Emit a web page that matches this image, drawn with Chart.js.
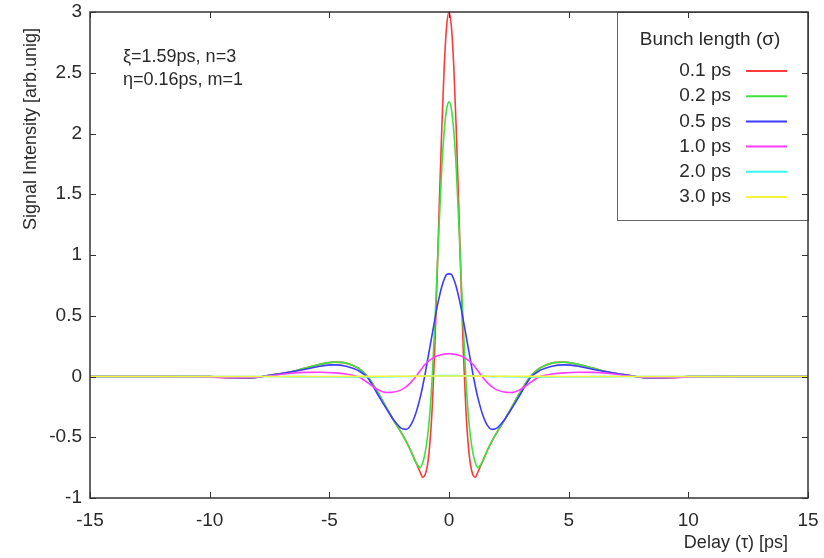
<!DOCTYPE html>
<html>
<head>
<meta charset="utf-8">
<script src="https://cdn.jsdelivr.net/npm/chart.js@4/dist/chart.umd.min.js"></script>
<style>
  html, body { margin: 0; padding: 0; background: #fff; }
  canvas { display: block; }
</style>
</head>
<body>
<canvas id="chart" width="824" height="558"></canvas>
<script>
// delay values (ps)
const delays = [-15, -12, -10, -9.2, -8.3, -7.5, -6.7, -6.0, -5.4, -4.8, -4.3, -3.8, -3.4, -3.0, -2.6, -2.3,
    -2.0, -1.8, -1.6, -1.4, -1.2, -1.1, -1.0, -0.9, -0.8, -0.7, -0.6, -0.5, -0.4, -0.3, -0.2, -0.1,
    0, 0.1, 0.2, 0.3, 0.4, 0.5, 0.6, 0.7, 0.8, 0.9, 1.0, 1.1, 1.2, 1.4, 1.6, 1.8,
    2.0, 2.3, 2.6, 3.0, 3.4, 3.8, 4.3, 4.8, 5.4, 6.0, 6.7, 7.5, 8.3, 9.2, 10, 12, 15];

// signal for each bunch length
const sig01 = [0, 0, 0, -0.01, -0.012, 0.01, 0.035, 0.07, 0.10, 0.118, 0.11, 0.07, 0.0, -0.12, -0.26, -0.365,
    -0.46, -0.53, -0.61, -0.70, -0.79, -0.83, -0.81, -0.73, -0.55, -0.25, 0.2, 0.8, 1.45, 2.05, 2.55, 2.88,
    3.0, 2.88, 2.55, 2.05, 1.45, 0.8, 0.2, -0.25, -0.55, -0.73, -0.81, -0.83, -0.79, -0.70, -0.61, -0.53,
    -0.46, -0.365, -0.26, -0.12, 0.0, 0.07, 0.11, 0.118, 0.10, 0.07, 0.035, 0.01, -0.012, -0.01, 0, 0, 0];
const sig02 = [0, 0, 0, -0.01, -0.012, 0.01, 0.035, 0.07, 0.10, 0.118, 0.11, 0.07, 0.0, -0.12, -0.26, -0.365,
    -0.46, -0.53, -0.61, -0.70, -0.75, -0.71, -0.63, -0.5, -0.3, 0.0, 0.4, 0.85, 1.3, 1.72, 2.02, 2.2,
    2.26, 2.2, 2.02, 1.72, 1.3, 0.85, 0.4, 0.0, -0.3, -0.5, -0.63, -0.71, -0.75, -0.70, -0.61, -0.53,
    -0.46, -0.365, -0.26, -0.12, 0.0, 0.07, 0.11, 0.118, 0.10, 0.07, 0.035, 0.01, -0.012, -0.01, 0, 0, 0];
const sig05 = [0, 0, 0, -0.008, -0.01, 0.01, 0.035, 0.06, 0.085, 0.096, 0.085, 0.05, -0.01, -0.14, -0.27, -0.36,
    -0.425, -0.435, -0.40, -0.31, -0.17, -0.08, 0.02, 0.13, 0.24, 0.35, 0.46, 0.57, 0.66, 0.74, 0.8, 0.84,
    0.845, 0.84, 0.8, 0.74, 0.66, 0.57, 0.46, 0.35, 0.24, 0.13, 0.02, -0.08, -0.17, -0.31, -0.40, -0.435,
    -0.425, -0.36, -0.27, -0.14, -0.01, 0.05, 0.085, 0.096, 0.085, 0.06, 0.035, 0.01, -0.01, -0.008, 0, 0, 0];
const sig10 = [0, 0, -0.004, -0.01, -0.008, 0.006, 0.025, 0.034, 0.035, 0.03, 0.02, 0.0, -0.05, -0.105, -0.132, -0.128,
    -0.11, -0.085, -0.05, -0.005, 0.05, 0.075, 0.1, 0.118, 0.135, 0.148, 0.16, 0.168, 0.175, 0.18, 0.184, 0.186,
    0.187, 0.186, 0.184, 0.18, 0.175, 0.168, 0.16, 0.148, 0.135, 0.118, 0.1, 0.075, 0.05, -0.005, -0.05, -0.085,
    -0.11, -0.128, -0.132, -0.105, -0.05, 0.0, 0.02, 0.03, 0.035, 0.034, 0.025, 0.006, -0.008, -0.01, -0.004, 0, 0];
const sig20 = [0, 0, 0, 0, 0, 0, -0.001, -0.001, -0.002, -0.002, -0.003, -0.003, -0.003, -0.003, -0.002, -0.001,
    0, 0, 0.001, 0.002, 0.003, 0.004, 0.004, 0.005, 0.005, 0.006, 0.006, 0.006, 0.007, 0.007, 0.007, 0.007,
    0.007, 0.007, 0.007, 0.007, 0.007, 0.006, 0.006, 0.006, 0.005, 0.005, 0.004, 0.004, 0.003, 0.002, 0.001, 0,
    0, -0.001, -0.002, -0.003, -0.003, -0.003, -0.003, -0.002, -0.002, -0.001, -0.001, 0, 0, 0, 0, 0, 0];
const sig30 = [0, 0, 0, 0, 0, 0, 0, 0, 0, 0, 0.001, 0.001, 0.001, 0.001, 0.002, 0.002,
    0.002, 0.002, 0.003, 0.003, 0.003, 0.003, 0.003, 0.004, 0.004, 0.004, 0.004, 0.004, 0.004, 0.004, 0.004, 0.004,
    0.004, 0.004, 0.004, 0.004, 0.004, 0.004, 0.004, 0.004, 0.004, 0.004, 0.003, 0.003, 0.003, 0.003, 0.003, 0.002,
    0.002, 0.002, 0.002, 0.001, 0.001, 0.001, 0.001, 0, 0, 0, 0, 0, 0, 0, 0, 0, 0];

const seriesLabels = ['0.1 ps', '0.2 ps', '0.5 ps', '1.0 ps', '2.0 ps', '3.0 ps'];
const seriesColors = ['#ff3a3a', '#3ee23e', '#3c3cff', '#ff3cff', '#3cf4f4', '#f4f43c'];
const seriesValues = [sig01, sig02, sig05, sig10, sig20, sig30];

const xTicks = [-15, -10, -5, 0, 5, 10, 15];
const yTicks = [-1, -0.5, 0, 0.5, 1, 1.5, 2, 2.5, 3];

const FONT = 'Liberation Sans, Arial, sans-serif';
const TXT = '#2a2a2a';

// frame, inward ticks, labels and legend in gnuplot style
const gnuplotStyle = {
    id: 'gnuplotStyle',
    afterDatasetsDraw(chart) {
        const ctx = chart.ctx;
        const a = chart.chartArea;
        const xs = chart.scales.x, ys = chart.scales.y;
        ctx.save();

        // legend box
        ctx.strokeStyle = '#666';
        ctx.lineWidth = 1;
        ctx.fillStyle = '#fff';
        ctx.fillRect(617, a.top, a.right - 617, 220 - a.top);
        ctx.strokeRect(617.5, a.top + 0.5, a.right - 617, 220 - a.top);
        ctx.fillStyle = TXT;
        ctx.font = '19px ' + FONT;
        ctx.textAlign = 'center';
        ctx.textBaseline = 'middle';
        ctx.fillText('Bunch length (σ)', 710, 40);
        seriesLabels.forEach((lab, i) => {
            const y = 71 + i * 25.2;
            ctx.textAlign = 'right';
            ctx.fillStyle = TXT;
            ctx.fillText(lab, 731, y);
            ctx.strokeStyle = seriesColors[i];
            ctx.lineWidth = 2;
            ctx.beginPath();
            ctx.moveTo(746, y);
            ctx.lineTo(787, y);
            ctx.stroke();
        });

        // frame
        ctx.strokeStyle = '#333';
        ctx.lineWidth = 1.5;
        ctx.strokeRect(a.left, a.top, a.right - a.left, a.bottom - a.top);

        // ticks on all four sides, pointing in
        ctx.lineWidth = 1;
        ctx.beginPath();
        xTicks.forEach(v => {
            const px = Math.round(xs.getPixelForValue(v)) + 0.5;
            ctx.moveTo(px, a.bottom); ctx.lineTo(px, a.bottom - 6);
            ctx.moveTo(px, a.top); ctx.lineTo(px, a.top + 6);
        });
        yTicks.forEach(v => {
            const py = Math.round(ys.getPixelForValue(v)) + 0.5;
            ctx.moveTo(a.left, py); ctx.lineTo(a.left + 6, py);
            ctx.moveTo(a.right, py); ctx.lineTo(a.right - 6, py);
        });
        ctx.stroke();

        // note in the corner
        ctx.fillStyle = TXT;
        ctx.font = '18px ' + FONT;
        ctx.textAlign = 'left';
        ctx.fillText('ξ=1.59ps, n=3', 123, 57);
        ctx.fillText('η=0.16ps, m=1', 123, 80);

        // axis titles
        ctx.textAlign = 'right';
        ctx.fillText('Delay (τ) [ps]', 788, 543);
        ctx.translate(31, 129);
        ctx.rotate(-Math.PI / 2);
        ctx.textAlign = 'center';
        ctx.fillText('Signal Intensity [arb.unig]', 0, 0);
        ctx.restore();
    }
};

const datasets = seriesValues.map((vals, i) => ({
    label: seriesLabels[i],
    data: delays.map((d, j) => ({ x: d, y: vals[j] })),
    borderColor: seriesColors[i],
    borderWidth: 1.6,
    pointRadius: 0,
    fill: false,
    cubicInterpolationMode: 'monotone',
    order: seriesValues.length - i
}));

new Chart(document.getElementById('chart'), {
    type: 'line',
    data: { datasets: datasets },
    options: {
        responsive: false,
        animation: false,
        devicePixelRatio: 1,
        layout: { padding: { left: 0, right: 16, top: 12, bottom: 0 } },
        plugins: { legend: { display: false }, tooltip: { enabled: false } },
        scales: {
            x: {
                type: 'linear', min: -15, max: 15,
                afterFit: s => { s.height = 60; s.paddingLeft = 0; s.paddingRight = 0; },
                afterBuildTicks: s => { s.ticks = xTicks.map(v => ({ value: v })); },
                grid: { display: false, drawTicks: false },
                border: { display: false },
                ticks: { padding: 11, color: TXT, font: { family: FONT, size: 19 }, callback: v => String(v) }
            },
            y: {
                type: 'linear', min: -1, max: 3,
                afterFit: s => { s.width = 90; s.paddingTop = 0; s.paddingBottom = 0; },
                afterBuildTicks: s => { s.ticks = yTicks.map(v => ({ value: v })); },
                grid: { display: false, drawTicks: false },
                border: { display: false },
                ticks: { padding: 8, color: TXT, font: { family: FONT, size: 19 }, callback: v => String(v) }
            }
        }
    },
    plugins: [gnuplotStyle]
});
</script>
</body>
</html>
